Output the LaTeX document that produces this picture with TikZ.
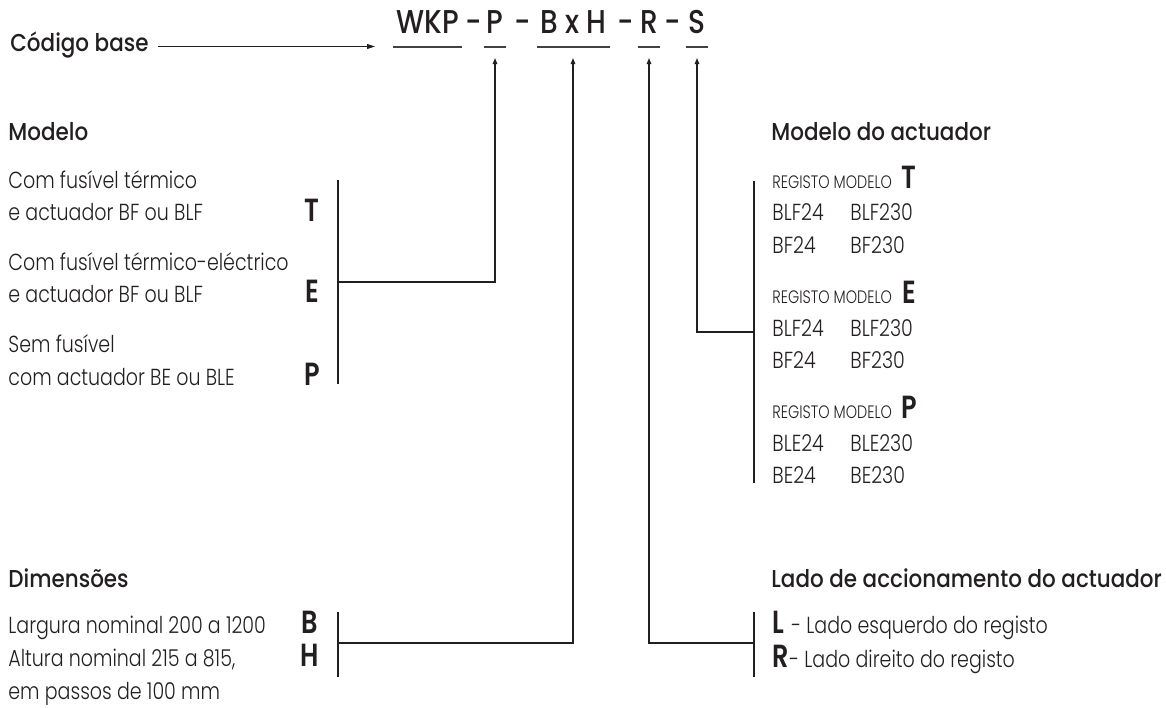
\documentclass[tikz,border=0pt]{standalone}
\usepackage{fontspec}
\usetikzlibrary{arrows.meta}
\IfFontExistsTF{Poppins Light}{\newfontfamily\bodyf{Poppins Light}[FakeStretch=0.82]}{\newfontfamily\bodyf{Poppins}[FakeStretch=0.82]}
\IfFontExistsTF{Poppins Light}{\newfontfamily\regf{Poppins Light}[FakeStretch=0.8]}{\newfontfamily\regf{Poppins}[FakeStretch=0.8]}
\IfFontExistsTF{Poppins Medium}{\newfontfamily\headf{Poppins Medium}[FakeStretch=0.88]}{\newfontfamily\headf{Poppins}[FakeStretch=0.88]}
\IfFontExistsTF{Poppins Medium}{\newfontfamily\codef{Poppins Medium}[FakeStretch=0.85]}{\newfontfamily\codef{Poppins}[FakeStretch=0.85]}
\IfFontExistsTF{Poppins SemiBold}{\newfontfamily\letf{Poppins SemiBold}[FakeStretch=0.8]}{\newfontfamily\letf{Poppins}[FakeStretch=0.8]}
\definecolor{ink}{HTML}{231F20}
\begin{document}
\begin{tikzpicture}[x=0.5pt,y=-0.5pt,
  lbl/.style={anchor=base west,inner sep=0pt,font=\bodyf\fontsize{11.6}{13}\selectfont,text=ink},
  head/.style={anchor=base west,inner sep=0pt,font=\headf\fontsize{12.2}{14}\selectfont,text=ink},
  bigl/.style={anchor=base,inner sep=0pt,font=\letf\fontsize{16}{18}\selectfont,text=ink},
  bigw/.style={anchor=base west,inner sep=0pt,font=\letf\fontsize{16}{18}\selectfont,text=ink},
  codet/.style={anchor=base,inner sep=0pt,font=\codef\fontsize{16.5}{18}\selectfont,text=ink},
  reg/.style={anchor=base west,inner sep=0pt,font=\regf\fontsize{9}{10}\selectfont,text=ink},
  conn/.style={draw=ink,line width=0.65pt},
  uline/.style={draw=ink!85,line width=0.8pt},
  arr/.style={conn,-{Triangle[length=3pt,width=2.2pt]}},
  arrl/.style={conn,-{Triangle[length=4pt,width=2.4pt]}}
]
\path[use as bounding box] (0,0) rectangle (1166,707);

% top line
\node[head] (cb) at (10,51) {Código base};
\coordinate (cbA) at (158,46.5);
\coordinate (cbB) at (375,46.5);
\draw[arrl] (cbA) -- (cbB);

\node[codet] (wkp) at (427.5,33) {WKP};
\node[codet] (d1) at (474,33) {-};
\node[codet] (cp) at (495,33) {P};
\node[codet] (d2) at (523,33) {-};
\node[codet] (cbh) at (573.5,33) {B x H};
\node[codet] (d3) at (626,33) {-};
\node[codet] (cr) at (649,33) {R};
\node[codet] (d4) at (673,33) {-};
\node[codet] (cs) at (697,33) {S};

\draw[uline] (393,47) -- (462,47);
\draw[uline] (484,47) -- (506,47);
\draw[uline] (537,47) -- (610,47);
\draw[uline] (638,47) -- (660,47);
\draw[uline] (686,47) -- (708,47);

\coordinate (tipP) at (495,58);
\coordinate (tipBH) at (573,58);
\coordinate (tipR) at (649,58);
\coordinate (tipS) at (697,58);

% Modelo
\node[head] (hmod) at (8,140) {Modelo};
\node[lbl] (m1) at (8,188) {Com fusível térmico};
\node[lbl] (m2) at (8,220) {e actuador BF ou BLF};
\node[lbl] (m3) at (8,270) {Com fusível térmico-eléctrico};
\node[lbl] (m4) at (8,302) {e actuador BF ou BLF};
\node[lbl] (m5) at (8,352) {Sem fusível};
\node[lbl] (m6) at (8,385) {com actuador BE ou BLE};
\node[bigl] (lT) at (312,221) {T};
\node[bigl] (lE) at (312,302) {E};
\node[bigl] (lP) at (312,385) {P};
\coordinate (mbT) at (338,180);
\coordinate (mbB) at (338,384);
\coordinate (mJ) at (338,282);
\draw[conn] (mbT) -- (mbB);
\draw[arr] (mJ) -| (tipP);

% Dimensoes
\node[head] (hdim) at (8,587) {Dimensões};
\node[lbl] (d1t) at (8,633) {Largura nominal 200 a 1200};
\node[lbl] (d2t) at (8,666) {Altura nominal 215 a 815,};
\node[lbl] (d3t) at (8,699) {em passos de 100 mm};
\node[bigl] (lB) at (310,633) {B};
\node[bigl] (lH) at (310,666) {H};
\coordinate (dbT) at (338,612);
\coordinate (dbB) at (338,677);
\coordinate (dJ) at (338,643);
\draw[conn] (dbT) -- (dbB);
\draw[arr] (dJ) -| (tipBH);

% Modelo do actuador
\node[head] (hact) at (771,140) {Modelo do actuador};
\node[reg] (r1) at (772,188) {REGISTO MODELO};
\node[bigl] (rT) at (909,188) {T};
\node[lbl] (a11) at (772,220) {BLF24};
\node[lbl] (a12) at (850,220) {BLF230};
\node[lbl] (a13) at (772,253) {BF24};
\node[lbl] (a14) at (850,253) {BF230};
\node[reg] (r2) at (772,303) {REGISTO MODELO};
\node[bigl] (rE) at (909,303) {E};
\node[lbl] (a21) at (772,336) {BLF24};
\node[lbl] (a22) at (850,336) {BLF230};
\node[lbl] (a23) at (772,368) {BF24};
\node[lbl] (a24) at (850,368) {BF230};
\node[reg] (r3) at (772,418) {REGISTO MODELO};
\node[bigl] (rP) at (909,418) {P};
\node[lbl] (a31) at (772,451) {BLE24};
\node[lbl] (a32) at (850,451) {BLE230};
\node[lbl] (a33) at (772,483) {BE24};
\node[lbl] (a34) at (850,483) {BE230};
\coordinate (abT) at (754,181);
\coordinate (abB) at (754,483);
\coordinate (aJ) at (754,332);
\draw[conn] (abT) -- (abB);
\draw[arr] (aJ) -| (tipS);

% Lado de accionamento
\node[head] (hlado) at (771,587) {Lado de accionamento do actuador};
\node[bigw] (lL) at (772,633) {L};
\node[lbl] (lLt) at (791,633) {- Lado esquerdo do registo};
\node[bigw] (lR) at (772,667) {R};
\node[lbl] (lRt) at (789,667) {- Lado direito do registo};
\coordinate (lbT) at (754,612);
\coordinate (lbB) at (754,677);
\coordinate (lJ) at (754,643);
\draw[conn] (lbT) -- (lbB);
\draw[arr] (lJ) -| (tipR);
\end{tikzpicture}
\end{document}
